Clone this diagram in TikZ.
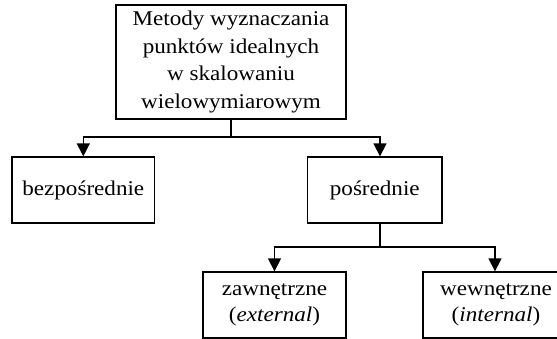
\documentclass[tikz,border=0pt]{standalone}
\usepackage{fontspec}
\setmainfont{Liberation Serif}[FakeStretch=1.1]
\usetikzlibrary{arrows.meta}
\begin{document}
\begin{tikzpicture}[x=1pt,y=-1pt,
  box/.style={draw,line width=1.3pt,inner sep=0pt,align=center,
    font=\fontsize{21}{27.8}\selectfont},
  lowbox/.style={box,font=\fontsize{21}{26}\selectfont},
  conn/.style={line width=1.4pt},
  arr/.style={conn,-{Triangle[width=13pt,length=13pt]}}]
\useasboundingbox (0,0) rectangle (557,339);
\clip (0,0) rectangle (557,339);
\node[box,minimum width=230pt,minimum height=114pt] (top) at (231,62)
  {Metody wyznaczania\\punktów idealnych\\w skalowaniu\\wielowymiarowym};
\node[box,minimum width=142.5pt,minimum height=66pt] (bez) at (83.3,190) {bezpośrednie};
\node[box,minimum width=134.4pt,minimum height=66pt] (pos) at (374.8,190) {pośrednie};
\node[lowbox,minimum width=143pt,minimum height=66pt] (zew) at (274.5,305) {zawnętrzne\\(\textit{external})};
\node[lowbox,minimum width=146pt,minimum height=66pt] (wew) at (496,305) {wewnętrzne\\(\textit{internal})};
\coordinate (j1) at (231,137);
\coordinate (j2) at (380,247);
\draw[conn] (top.south) -- (j1);
\draw[arr] (j1) -| (bez.north);
\draw[arr] (j1) -| ([xshift=5.2pt]pos.north);
\draw[conn] ([xshift=5.2pt]pos.south) -- (j2);
\draw[arr] (j2) -| (zew.north);
\draw[arr] (j2) -| ([xshift=-1pt]wew.north);
\end{tikzpicture}
\end{document}
